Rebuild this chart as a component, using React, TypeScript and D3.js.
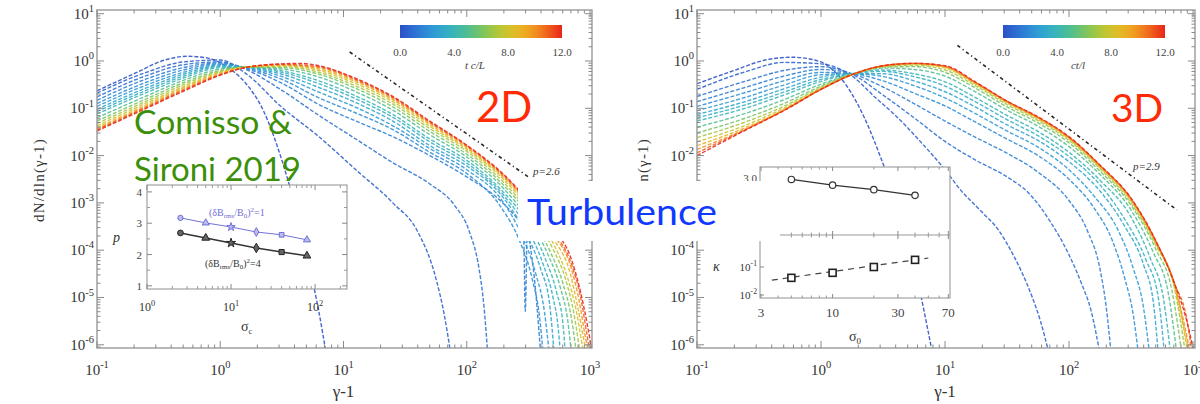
import React from 'react';
import * as d3 from 'd3';

// ---------- data: spectra, [log10(γ-1), log10(dN/dln(γ-1))] ----------
const tTimes = [0, 0.5, 1, 1.5, 2, 2.5, 3, 3.5, 4, 5, 6, 7, 8, 9, 10, 11, 12];

const s2d_00 = [[-1,-0.63],[-0.7,-0.27],[-0.45,0.02],[-0.27,0.10],[-0.1,0.06],[0.05,-0.12],[0.2,-0.45],[0.35,-1.05],[0.5,-2.1],[0.62,-3.2],[0.72,-4.3],[0.8,-5.3],[0.86,-6.2]];
const s2d_05 = [[-1,-0.68],[-0.6,-0.24],[-0.3,-0.02],[0,0.02],[0.2,-0.25],[0.5,-0.98],[0.8,-1.6],[1.1,-2.3],[1.4,-3.0],[1.6,-3.6],[1.75,-4.6],[1.82,-5.4],[1.87,-6.2]];
const s2d_10 = [[-1,-0.76],[-0.6,-0.31],[-0.3,-0.08],[0,-0.02],[0.2,-0.17],[0.5,-0.62],[0.8,-1.15],[1.1,-1.65],[1.4,-2.15],[1.7,-2.6],[1.9,-3.05],[2.02,-3.6],[2.1,-4.4],[2.14,-5.2],[2.17,-6.2]];
const s2d_15 = [[-1,-0.83],[-0.6,-0.38],[-0.3,-0.14],[0,-0.04],[0.2,-0.15],[0.5,-0.47],[0.8,-0.92],[1.1,-1.27],[1.4,-1.6],[1.7,-2.0],[2.0,-2.45],[2.25,-2.9],[2.4,-3.3],[2.46,-3.5],[2.475,-5.3],[2.49,-3.7],[2.54,-4.4],[2.6,-6.2]];
const s2d_20 = [[-1,-0.90],[-0.6,-0.45],[-0.3,-0.19],[0,-0.06],[0.2,-0.14],[0.5,-0.39],[0.8,-0.78],[1.1,-1.1],[1.4,-1.45],[1.7,-1.93],[2.0,-2.38],[2.28,-3.1],[2.42,-3.75],[2.53,-4.6],[2.59,-5.4],[2.62,-6.2]];
const s2d_25 = [[-1,-0.96],[-0.6,-0.51],[-0.3,-0.24],[0,-0.08],[0.2,-0.13],[0.5,-0.33],[0.8,-0.66],[1.1,-0.98],[1.4,-1.37],[1.7,-1.85],[2.0,-2.3],[2.3,-3.0],[2.44,-3.65],[2.56,-4.5],[2.63,-5.3],[2.67,-6.2]];
const s2d_30 = [[-1,-1.02],[-0.6,-0.57],[-0.3,-0.28],[0,-0.10],[0.2,-0.13],[0.5,-0.28],[0.8,-0.56],[1.1,-0.88],[1.4,-1.27],[1.7,-1.79],[2.0,-2.22],[2.3,-2.9],[2.46,-3.55],[2.6,-4.4],[2.67,-5.1],[2.71,-6.2]];
const s2d_35 = [[-1,-1.07],[-0.6,-0.62],[-0.3,-0.32],[0,-0.12],[0.2,-0.13],[0.5,-0.24],[0.8,-0.48],[1.1,-0.8],[1.4,-1.19],[1.7,-1.71],[2.0,-2.16],[2.3,-2.84],[2.48,-3.5],[2.62,-4.3],[2.7,-5.0],[2.74,-5.6],[2.76,-6.2]];
const s2d_40 = [[-1,-1.12],[-0.6,-0.67],[-0.3,-0.36],[0,-0.14],[0.2,-0.13],[0.5,-0.21],[0.8,-0.42],[1.1,-0.74],[1.4,-1.13],[1.7,-1.65],[2.0,-2.1],[2.3,-2.78],[2.5,-3.45],[2.64,-4.2],[2.73,-4.9],[2.78,-5.55],[2.8,-6.2]];
const s2d_50 = [[-1,-1.20],[-0.6,-0.74],[-0.3,-0.41],[0,-0.17],[0.2,-0.13],[0.5,-0.17],[0.8,-0.34],[1.1,-0.65],[1.4,-1.04],[1.7,-1.56],[2.0,-2.03],[2.3,-2.7],[2.5,-3.35],[2.66,-4.1],[2.76,-4.8],[2.82,-5.5],[2.85,-6.2]];
const s2d_60 = [[-1,-1.27],[-0.6,-0.80],[-0.3,-0.46],[0,-0.20],[0.2,-0.13],[0.5,-0.14],[0.8,-0.28],[1.1,-0.58],[1.4,-0.97],[1.7,-1.49],[2.0,-1.97],[2.3,-2.63],[2.5,-3.25],[2.68,-4.05],[2.78,-4.7],[2.85,-5.45],[2.89,-6.2]];
const s2d_70 = [[-1,-1.32],[-0.6,-0.85],[-0.3,-0.50],[0,-0.22],[0.2,-0.13],[0.5,-0.12],[0.8,-0.24],[1.1,-0.53],[1.4,-0.91],[1.7,-1.43],[2.0,-1.91],[2.3,-2.57],[2.5,-3.17],[2.7,-3.98],[2.8,-4.6],[2.87,-5.35],[2.92,-6.2]];
const s2d_80 = [[-1,-1.37],[-0.6,-0.89],[-0.3,-0.54],[0,-0.24],[0.2,-0.13],[0.5,-0.10],[0.8,-0.20],[1.1,-0.48],[1.4,-0.86],[1.7,-1.38],[2.0,-1.87],[2.3,-2.51],[2.5,-3.1],[2.7,-3.85],[2.82,-4.6],[2.89,-5.3],[2.93,-5.9],[2.95,-6.2]];
const s2d_90 = [[-1,-1.41],[-0.6,-0.93],[-0.3,-0.57],[0,-0.26],[0.2,-0.13],[0.5,-0.09],[0.8,-0.17],[1.1,-0.44],[1.4,-0.82],[1.7,-1.34],[2.0,-1.84],[2.3,-2.47],[2.5,-3.04],[2.7,-3.75],[2.84,-4.5],[2.9,-5.2],[2.95,-5.9],[2.97,-6.2]];
const s2d_100 = [[-1,-1.44],[-0.6,-0.96],[-0.3,-0.60],[0,-0.28],[0.2,-0.14],[0.5,-0.08],[0.8,-0.14],[1.1,-0.41],[1.4,-0.79],[1.7,-1.31],[2.0,-1.81],[2.3,-2.44],[2.5,-3.0],[2.7,-3.66],[2.85,-4.4],[2.91,-5.05],[2.96,-5.8],[2.99,-6.2]];
const s2d_110 = [[-1,-1.46],[-0.6,-0.98],[-0.3,-0.62],[0,-0.29],[0.2,-0.14],[0.5,-0.07],[0.8,-0.12],[1.1,-0.39],[1.4,-0.77],[1.7,-1.29],[2.0,-1.79],[2.3,-2.42],[2.5,-2.97],[2.7,-3.6],[2.85,-4.3],[2.92,-4.95],[2.97,-5.7],[3.0,-6.2]];
const s2d_120 = [[-1,-1.48],[-0.6,-1.0],[-0.3,-0.64],[0,-0.30],[0.2,-0.14],[0.5,-0.06],[0.65,-0.05],[0.8,-0.10],[1.1,-0.37],[1.4,-0.75],[1.7,-1.27],[2.0,-1.78],[2.3,-2.4],[2.5,-2.95],[2.7,-3.55],[2.85,-4.2],[2.92,-4.85],[2.98,-5.6],[3.02,-6.2]];

const s3d_00 = [[-1,-0.48],[-0.7,-0.2],[-0.45,0.02],[-0.23,0.08],[0,-0.02],[0.1,-0.2],[0.2,-0.5],[0.35,-1.2],[0.49,-2.1],[0.6,-2.9],[0.7,-3.8],[0.8,-4.9],[0.9,-6.2]];
const s3d_05 = [[-1,-0.60],[-0.6,-0.22],[-0.3,-0.03],[0,-0.06],[0.25,-0.32],[0.45,-0.8],[0.6,-1.15],[0.8,-1.7],[1.0,-2.3],[1.13,-2.74],[1.3,-3.2],[1.43,-3.57],[1.55,-4.1],[1.62,-4.47],[1.7,-4.97],[1.77,-5.5],[1.84,-6.2]];
const s3d_10 = [[-1,-0.75],[-0.6,-0.42],[-0.3,-0.2],[0,-0.12],[0.25,-0.28],[0.5,-0.72],[0.75,-1.2],[1.0,-1.7],[1.25,-2.1],[1.5,-2.45],[1.67,-2.78],[1.85,-3.4],[2.0,-4.1],[2.1,-4.7],[2.18,-5.3],[2.25,-6.2]];
const s3d_15 = [[-1,-0.86],[-0.6,-0.55],[-0.3,-0.32],[0,-0.18],[0.25,-0.27],[0.5,-0.55],[0.75,-0.9],[1.0,-1.27],[1.25,-1.62],[1.5,-1.95],[1.75,-2.35],[2.0,-2.95],[2.15,-3.6],[2.25,-4.4],[2.3,-5.2],[2.34,-6.2]];
const s3d_20 = [[-1,-0.96],[-0.6,-0.66],[-0.3,-0.42],[0,-0.24],[0.25,-0.27],[0.5,-0.42],[0.75,-0.68],[1.0,-0.95],[1.25,-1.3],[1.5,-1.65],[1.75,-2.0],[2.0,-2.5],[2.2,-3.1],[2.35,-3.8],[2.45,-4.6],[2.52,-5.4],[2.56,-6.2]];
const s3d_25 = [[-1,-1.05],[-0.6,-0.76],[-0.3,-0.51],[0,-0.29],[0.25,-0.27],[0.5,-0.33],[0.75,-0.52],[1.0,-0.78],[1.25,-1.12],[1.5,-1.48],[1.75,-1.82],[2.0,-2.3],[2.2,-2.85],[2.4,-3.6],[2.52,-4.4],[2.6,-5.2],[2.65,-6.2]];
const s3d_30 = [[-1,-1.13],[-0.6,-0.85],[-0.3,-0.59],[0,-0.34],[0.25,-0.27],[0.5,-0.27],[0.75,-0.42],[1.0,-0.65],[1.25,-0.98],[1.5,-1.35],[1.75,-1.68],[2.0,-2.13],[2.25,-2.75],[2.45,-3.5],[2.6,-4.3],[2.68,-5.1],[2.72,-6.2]];
const s3d_35 = [[-1,-1.2],[-0.6,-0.92],[-0.3,-0.66],[0,-0.39],[0.25,-0.27],[0.5,-0.22],[0.75,-0.33],[1.0,-0.53],[1.25,-0.87],[1.5,-1.24],[1.75,-1.58],[2.0,-2.02],[2.25,-2.62],[2.45,-3.35],[2.62,-4.2],[2.72,-5.0],[2.77,-6.2]];
const s3d_40 = [[-1,-1.27],[-0.6,-0.99],[-0.3,-0.72],[0,-0.43],[0.25,-0.27],[0.5,-0.19],[0.75,-0.27],[1.0,-0.44],[1.25,-0.78],[1.5,-1.15],[1.75,-1.49],[2.0,-1.93],[2.25,-2.52],[2.5,-3.3],[2.66,-4.2],[2.76,-5.0],[2.82,-6.2]];
const s3d_50 = [[-1,-1.4],[-0.6,-1.1],[-0.3,-0.82],[0,-0.49],[0.25,-0.28],[0.5,-0.15],[0.75,-0.18],[1.0,-0.32],[1.25,-0.66],[1.5,-1.04],[1.75,-1.38],[2.0,-1.81],[2.25,-2.4],[2.5,-3.15],[2.68,-4.05],[2.8,-4.9],[2.87,-6.2]];
const s3d_60 = [[-1,-1.52],[-0.6,-1.2],[-0.3,-0.9],[0,-0.53],[0.25,-0.28],[0.5,-0.13],[0.75,-0.12],[1.0,-0.24],[1.25,-0.58],[1.5,-0.97],[1.75,-1.31],[2.0,-1.73],[2.25,-2.33],[2.5,-3.05],[2.7,-3.98],[2.83,-4.85],[2.91,-6.2]];
const s3d_70 = [[-1,-1.62],[-0.6,-1.28],[-0.3,-0.96],[0,-0.56],[0.25,-0.28],[0.5,-0.12],[0.75,-0.09],[1.0,-0.19],[1.25,-0.53],[1.5,-0.92],[1.75,-1.26],[2.0,-1.68],[2.25,-2.28],[2.5,-3.0],[2.7,-3.9],[2.85,-4.8],[2.94,-6.2]];
const s3d_80 = [[-1,-1.71],[-0.6,-1.35],[-0.3,-1.0],[0,-0.58],[0.25,-0.29],[0.5,-0.11],[0.75,-0.07],[1.0,-0.15],[1.25,-0.5],[1.5,-0.89],[1.75,-1.23],[2.0,-1.65],[2.25,-2.25],[2.5,-2.96],[2.7,-3.86],[2.85,-4.75],[2.96,-6.2]];
const s3d_90 = [[-1,-1.79],[-0.6,-1.4],[-0.3,-1.03],[0,-0.59],[0.25,-0.29],[0.5,-0.11],[0.75,-0.06],[1.0,-0.13],[1.25,-0.48],[1.5,-0.87],[1.75,-1.21],[2.0,-1.63],[2.25,-2.23],[2.5,-2.93],[2.7,-3.83],[2.85,-4.72],[2.97,-6.2]];
const s3d_100 = [[-1,-1.87],[-0.6,-1.43],[-0.3,-1.04],[0,-0.6],[0.25,-0.29],[0.5,-0.1],[0.75,-0.05],[1.0,-0.12],[1.25,-0.47],[1.5,-0.86],[1.75,-1.2],[2.0,-1.62],[2.25,-2.22],[2.5,-2.92],[2.7,-3.82],[2.85,-4.71],[2.98,-6.2]];
const s3d_110 = [[-1,-1.94],[-0.6,-1.44],[-0.3,-1.05],[0,-0.6],[0.25,-0.29],[0.5,-0.1],[0.75,-0.05],[1.0,-0.11],[1.25,-0.46],[1.5,-0.85],[1.75,-1.19],[2.0,-1.61],[2.25,-2.21],[2.5,-2.91],[2.7,-3.81],[2.85,-4.7],[2.96,-5.6],[2.99,-6.2]];
const s3d_120 = [[-1,-2.0],[-0.6,-1.45],[-0.3,-1.05],[0,-0.6],[0.25,-0.29],[0.5,-0.1],[0.75,-0.05],[1.0,-0.10],[1.25,-0.45],[1.5,-0.85],[1.75,-1.18],[2.0,-1.6],[2.25,-2.2],[2.5,-2.9],[2.7,-3.8],[2.85,-4.7],[2.95,-5.5],[3.01,-6.2]];

const spectra2D = [s2d_00, s2d_05, s2d_10, s2d_15, s2d_20, s2d_25, s2d_30, s2d_35, s2d_40, s2d_50, s2d_60, s2d_70, s2d_80, s2d_90, s2d_100, s2d_110, s2d_120];
const spectra3D = [s3d_00, s3d_05, s3d_10, s3d_15, s3d_20, s3d_25, s3d_30, s3d_35, s3d_40, s3d_50, s3d_60, s3d_70, s3d_80, s3d_90, s3d_100, s3d_110, s3d_120];

// power-law guide lines [log10(γ-1), log10(N)]
const guide2D = [[1.05, 0.19], [2.51, -2.47]];
const guide3D = [[1.10, 0.33], [2.87, -3.15]];

// inset 2D: p vs sigma
const inset2DSigma = [2.5, 5, 10, 20, 40, 80];
const inset2DP_dB1 = [3.17, 3.01, 2.88, 2.72, 2.63, 2.47];
const inset2DP_dB4 = [2.69, 2.53, 2.37, 2.21, 2.08, 1.96];

// inset 3D
const inset3DSigma = [5, 10, 20, 40];
const inset3DP = [2.99, 2.94, 2.90, 2.85];
const inset3DKappa = [0.041, 0.062, 0.10, 0.18];
const kappaFitSigma = [3.6, 50];
const kappaFit = [0.034, 0.21];

const cbTicks = [0, 4, 8, 12];
const xDecades = [-1, 0, 1, 2, 3];
const yDecadesLeft = [1, 0, -1, -2, -3, -4, -5, -6];
const yDecadesRight = [1, 0, -1, -2, -4, -5, -6];
const yTicksAll = [1, 0, -1, -2, -3, -4, -5, -6];

const colorStops = ['#2b50c6', '#2f86dc', '#2eb3cf', '#4dbf8c', '#a0c93a', '#ecc423', '#f58a1e', '#e8241a'];
const cmap = d3.scaleSequential(d3.interpolateRgbBasis(colorStops)).domain([0, 12]);

const X_DOMAIN: [number, number] = [0.1, Math.pow(10, 3.016)];
const Y_DOMAIN: [number, number] = [Math.pow(10, -6.068), Math.pow(10, 1.078)];
const SERIF = "'Liberation Serif', 'DejaVu Serif', serif";
const SANS = "Lato, 'Open Sans', sans-serif";

function Pow({ x, y, e, anchor = 'middle', size = 13 }: any) {
  return (
    <text x={x} y={y} textAnchor={anchor} fontSize={size} fill="#333" fontFamily={SERIF}>
      10<tspan dy={-size * 0.45} fontSize={size * 0.7}>{e}</tspan>
    </text>
  );
}

function Panel(props: any) {
  const { id, left, right, top, bottom, spectra, guide, pText, pTextX, pTextY, cb, cbLabel, ylabX, yLabels } = props;
  const xs = d3.scaleLog().domain(X_DOMAIN).range([left, right]);
  const ys = d3.scaleLog().domain(Y_DOMAIN).range([bottom, top]);
  const line = d3.line<number[]>().x(d => xs(Math.pow(10, d[0]))).y(d => ys(Math.pow(10, d[1]))).curve(d3.curveMonotoneX);
  const minorX: number[] = [];
  for (let e = -1; e < 3; e++) for (let k = 2; k < 10; k++) minorX.push(k * Math.pow(10, e));
  const minorY: number[] = [];
  for (let e = -7; e < 1; e++) for (let k = 2; k < 10; k++) { const v = k * Math.pow(10, e); if (v > Y_DOMAIN[0] && v < Y_DOMAIN[1]) minorY.push(v); }
  const tickC = '#8a8a8a';
  const stops = d3.range(0, 12.01, 0.5);
  const cbx = d3.scaleLinear().domain([0, 12]).range([cb[0], cb[1]]);
  return (
    <g>
      <defs>
        <clipPath id={`clip-${id}`}><rect x={left} y={top} width={right - left} height={bottom - top} /></clipPath>
        <linearGradient id={`grad-${id}`} x1="0" x2="1" y1="0" y2="0">
          {stops.map(s => <stop key={s} offset={s / 12} stopColor={cmap(s)} />)}
        </linearGradient>
      </defs>
      <g clipPath={`url(#clip-${id})`}>
        {spectra.map((pts: number[][], i: number) => (
          <path key={i} d={line(pts) || ''} fill="none" stroke={cmap(tTimes[i])} strokeWidth={1.4}
            strokeDasharray="4 1.8" strokeOpacity={0.88} />
        ))}
        <path d={line(guide) || ''} fill="none" stroke="#2a2a2a" strokeWidth={1.6} strokeDasharray="3.5 3 1.2 3" />
      </g>
      <rect x={left} y={top} width={right - left} height={bottom - top} fill="none" stroke="#9a9a9a" strokeWidth={1.4} />
      {xDecades.map(e => {
        const x = xs(Math.pow(10, e));
        return <g key={e}>
          <line x1={x} x2={x} y1={bottom} y2={bottom - 7} stroke={tickC} />
          <line x1={x} x2={x} y1={top} y2={top + 7} stroke={tickC} />
          <Pow x={x} y={bottom + 27} e={String(e)} size={15} />
        </g>;
      })}
      {minorX.map((v, i) => {
        const x = xs(v);
        return <g key={i}>
          <line x1={x} x2={x} y1={bottom} y2={bottom - 3.5} stroke={tickC} />
          <line x1={x} x2={x} y1={top} y2={top + 3.5} stroke={tickC} />
        </g>;
      })}
      {yTicksAll.map(e => {
        const y = ys(Math.pow(10, e));
        return <g key={e}>
          <line x1={left} x2={left + 7} y1={y} y2={y} stroke={tickC} />
          <line x1={right} x2={right - 7} y1={y} y2={y} stroke={tickC} />
        </g>;
      })}
      {yLabels.map((e: number) => (
        <Pow key={e} x={left - 3} y={ys(Math.pow(10, e)) + 5} e={String(e)} anchor="end" size={15} />
      ))}
      {minorY.map((v, i) => {
        const y = ys(v);
        return <g key={i}>
          <line x1={left} x2={left + 3.5} y1={y} y2={y} stroke={tickC} />
          <line x1={right} x2={right - 3.5} y1={y} y2={y} stroke={tickC} />
        </g>;
      })}
      <text x={(xs(10))} y={397} textAnchor="middle" fontSize={17} fontFamily={SERIF} fill="#333">γ-1</text>
      <text transform={`translate(${ylabX},180) rotate(-90)`} textAnchor="middle" fontSize={15} letterSpacing={1.2} fontFamily={SERIF} fill="#333">dN/dln(γ-1)</text>
      <rect x={cb[0]} y={25} width={cb[1] - cb[0]} height={13} fill={`url(#grad-${id})`} />
      {cbTicks.map(t => (
        <text key={t} x={cbx(t)} y={56} textAnchor="middle" fontSize={11} fontFamily={SERIF} fill="#444">{t.toFixed(1)}</text>
      ))}
      <text x={(cb[0] + cb[1]) / 2 - 6} y={69} textAnchor="middle" fontSize={11} fontStyle="italic" fontFamily={SERIF} fill="#444">{cbLabel}</text>
      <text x={pTextX} y={pTextY} fontSize={11} fontStyle="italic" fontFamily={SERIF} fill="#333">{pText}</text>
    </g>
  );
}

function Inset2D() {
  const L = 147, R = 347, T = 185, B = 289;
  const ix = d3.scaleLog().domain([1, Math.pow(10, 2.38)]).range([L, R]);
  const iy = d3.scaleLinear().domain([0.9, 4.22]).range([B, T]);
  const ln = (ps: number[]) => d3.line<number>().x((_, i) => ix(inset2DSigma[i])).y(d => iy(d))(ps) || '';
  const sym = [d3.symbolCircle, d3.symbolTriangle, d3.symbolStar, d3.symbolDiamond, d3.symbolSquare, d3.symbolTriangle];
  const minor: number[] = [];
  for (let e = 0; e < 3; e++) for (let k = 2; k < 10; k++) { const v = k * Math.pow(10, e); if (v < Math.pow(10, 2.38)) minor.push(v); }
  return (
    <g>
      <rect x={L} y={T} width={R - L} height={B - T} fill="#fff" stroke="#9a9a9a" strokeWidth={1.1} />
      {[1, 2, 3, 4].map(v => <g key={v}>
        <line x1={L} x2={L + 5} y1={iy(v)} y2={iy(v)} stroke="#888" />
        <line x1={R} x2={R - 5} y1={iy(v)} y2={iy(v)} stroke="#888" />
        <text x={L - 5} y={iy(v) + 4} textAnchor="end" fontSize={11} fontFamily={SERIF} fill="#444">{v}</text>
      </g>)}
      {[1.5, 2.5, 3.5].map(v => <g key={v}>
        <line x1={L} x2={L + 3} y1={iy(v)} y2={iy(v)} stroke="#999" />
        <line x1={R} x2={R - 3} y1={iy(v)} y2={iy(v)} stroke="#999" />
      </g>)}
      {[0, 1, 2].map(e => <g key={e}>
        <line x1={ix(Math.pow(10, e))} x2={ix(Math.pow(10, e))} y1={B} y2={B - 5} stroke="#888" />
        <line x1={ix(Math.pow(10, e))} x2={ix(Math.pow(10, e))} y1={T} y2={T + 5} stroke="#888" />
        <Pow x={ix(Math.pow(10, e))} y={B + 22} e={String(e)} size={12} />
      </g>)}
      {minor.map((v, i) => <g key={i}>
        <line x1={ix(v)} x2={ix(v)} y1={B} y2={B - 3} stroke="#999" />
        <line x1={ix(v)} x2={ix(v)} y1={T} y2={T + 3} stroke="#999" />
      </g>)}
      <path d={ln(inset2DP_dB1)} fill="none" stroke="#7272d8" strokeWidth={1} />
      <path d={ln(inset2DP_dB4)} fill="none" stroke="#333" strokeWidth={1.5} />
      {inset2DP_dB1.map((p, i) => (
        <path key={'b' + i} transform={`translate(${ix(inset2DSigma[i])},${iy(p)})`} d={d3.symbol(sym[i], 22)() || ''} fill="#bcbcf0" stroke="#6f6fd6" />
      ))}
      {inset2DP_dB4.map((p, i) => (
        <path key={'k' + i} transform={`translate(${ix(inset2DSigma[i])},${iy(p)})`} d={d3.symbol(sym[i], 26)() || ''} fill="#666" stroke="#222" />
      ))}
      <text x={209} y={216} fontSize={10} fontFamily={SERIF} fill="#6f6fd6">(δB<tspan fontSize={7} dy={2}>rms</tspan><tspan dy={-2}>/B</tspan><tspan fontSize={7} dy={2}>0</tspan><tspan dy={-2}>)</tspan><tspan fontSize={7} dy={-4}>2</tspan><tspan dy={4}>=1</tspan></text>
      <text x={205} y={267} fontSize={10} fontFamily={SERIF} fill="#333">(δB<tspan fontSize={7} dy={2}>rms</tspan><tspan dy={-2}>/B</tspan><tspan fontSize={7} dy={2}>0</tspan><tspan dy={-2}>)</tspan><tspan fontSize={7} dy={-4}>2</tspan><tspan dy={4}>=4</tspan></text>
      <text x={113} y={242} fontSize={14} fontStyle="italic" fontFamily={SERIF} fill="#333">p</text>
      <text x={241} y={331} fontSize={14} fontFamily={SERIF} fill="#333">σ<tspan fontSize={8} dy={3}>c</tspan></text>
    </g>
  );
}

function Inset3D() {
  const L = 760, R = 950, T = 167, M = 235, B = 298;
  const jx = d3.scaleLog().domain([2.95, 72]).range([L, R]);
  const jyU = d3.scaleLinear().domain([2.5, 3.1]).range([M, T]);
  const jyL = d3.scaleLog().domain([Math.pow(10, -2.107), Math.pow(10, 0.143)]).range([B, M]);
  const upper = d3.line<number>().x((_, i) => jx(inset3DSigma[i])).y(d => jyU(d))(inset3DP) || '';
  const fit = d3.line<number>().x((_, i) => jx(kappaFitSigma[i])).y(d => jyL(d))(kappaFit) || '';
  const xt = [3, 10, 30, 70];
  const xm = [4, 5, 6, 7, 8, 9, 20, 40, 50, 60];
  return (
    <g>
      <rect x={L} y={T} width={R - L} height={B - T} fill="#fff" stroke="#9a9a9a" strokeWidth={1.1} />
      <line x1={L} x2={R} y1={M} y2={M} stroke="#9a9a9a" strokeWidth={1.1} />
      {xt.map(v => <g key={v}>
        <line x1={jx(v)} x2={jx(v)} y1={B} y2={B - 4} stroke="#888" />
        <line x1={jx(v)} x2={jx(v)} y1={M} y2={M - 4} stroke="#888" />
        <line x1={jx(v)} x2={jx(v)} y1={M} y2={M + 4} stroke="#888" />
        <line x1={jx(v)} x2={jx(v)} y1={T} y2={T + 4} stroke="#888" />
        <text x={jx(v)} y={B + 19} textAnchor="middle" fontSize={13} fontFamily={SERIF} fill="#444">{v}</text>
      </g>)}
      {xm.map(v => <g key={v}>
        <line x1={jx(v)} x2={jx(v)} y1={B} y2={B - 2.5} stroke="#999" />
        <line x1={jx(v)} x2={jx(v)} y1={M} y2={M - 2.5} stroke="#999" />
        <line x1={jx(v)} x2={jx(v)} y1={M} y2={M + 2.5} stroke="#999" />
        <line x1={jx(v)} x2={jx(v)} y1={T} y2={T + 2.5} stroke="#999" />
      </g>)}
      <text x={L - 3} y={jyU(3.0) + 4} textAnchor="end" fontSize={11} fontFamily={SERIF} fill="#444">3.0</text>
      <Pow x={L - 3} y={jyL(0.1) + 4} e="-1" anchor="end" size={11} />
      <Pow x={L - 3} y={jyL(0.01) + 4} e="-2" anchor="end" size={11} />
      <line x1={L} x2={L + 4} y1={jyL(0.1)} y2={jyL(0.1)} stroke="#888" />
      <line x1={L} x2={L + 4} y1={jyL(0.01)} y2={jyL(0.01)} stroke="#888" />
      <text x={713} y={271} fontSize={14} fontStyle="italic" fontFamily={SERIF} fill="#333">κ</text>
      <path d={upper} fill="none" stroke="#333" strokeWidth={1.2} />
      {inset3DP.map((p, i) => (
        <circle key={i} cx={jx(inset3DSigma[i])} cy={jyU(p)} r={3.2} fill="#fff" stroke="#333" strokeWidth={1.2} />
      ))}
      <path d={fit} fill="none" stroke="#444" strokeWidth={1.2} strokeDasharray="6 5" />
      {inset3DKappa.map((k, i) => (
        <rect key={i} x={jx(inset3DSigma[i]) - 3.5} y={jyL(k) - 3.5} width={7} height={7} fill="#fff" stroke="#222" strokeWidth={1.6} />
      ))}
      <text x={849} y={341} fontSize={14} fontFamily={SERIF} fill="#333">σ<tspan fontSize={9} dy={3}>0</tspan></text>
    </g>
  );
}

export default function App() {
  return (
    <svg width={1200} height={404} style={{ position: 'absolute', left: 0, top: 0, background: '#fff' }}>
      <rect x={0} y={0} width={1200} height={404} fill="#fff" />
      <Panel id="p2d" left={97} right={592} top={10} bottom={348} spectra={spectra2D} guide={guide2D} yLabels={yDecadesLeft}
        pText="p=2.6" pTextX={533} pTextY={175} cb={[400, 562]} cbLabel="t c/L" ylabX={44} />
      <Panel id="p3d" left={697} right={1195} top={10} bottom={348} spectra={spectra3D} guide={guide3D} yLabels={yDecadesRight}
        pText="p=2.9" pTextX={1133} pTextY={170} cb={[1003, 1165]} cbLabel="ct/l" ylabX={648} />
      <Inset2D />
      <Inset3D />
      <text x={476} y={122} fontSize={42} fontFamily={SANS} fill="#ff2a06">2D</text>
      <text x={1111} y={122} fontSize={39} fontFamily={SANS} fill="#ff2a06">3D</text>
      <text x={134} y={134} fontSize={32} textLength={158} lengthAdjust="spacingAndGlyphs" fontFamily={SANS} fill="#3c8f08">Comisso &amp;</text>
      <text x={134} y={181} fontSize={32} textLength={167} lengthAdjust="spacingAndGlyphs" fontFamily={SANS} fill="#3c8f08">Sironi 2019</text>
      <rect x={518} y={181} width={262} height={60} fill="#fff" />
      <text x={527} y={225} fontSize={36} textLength={190} lengthAdjust="spacingAndGlyphs" fontFamily={SANS} fill="#1038ff">Turbulence</text>
    </svg>
  );
}
